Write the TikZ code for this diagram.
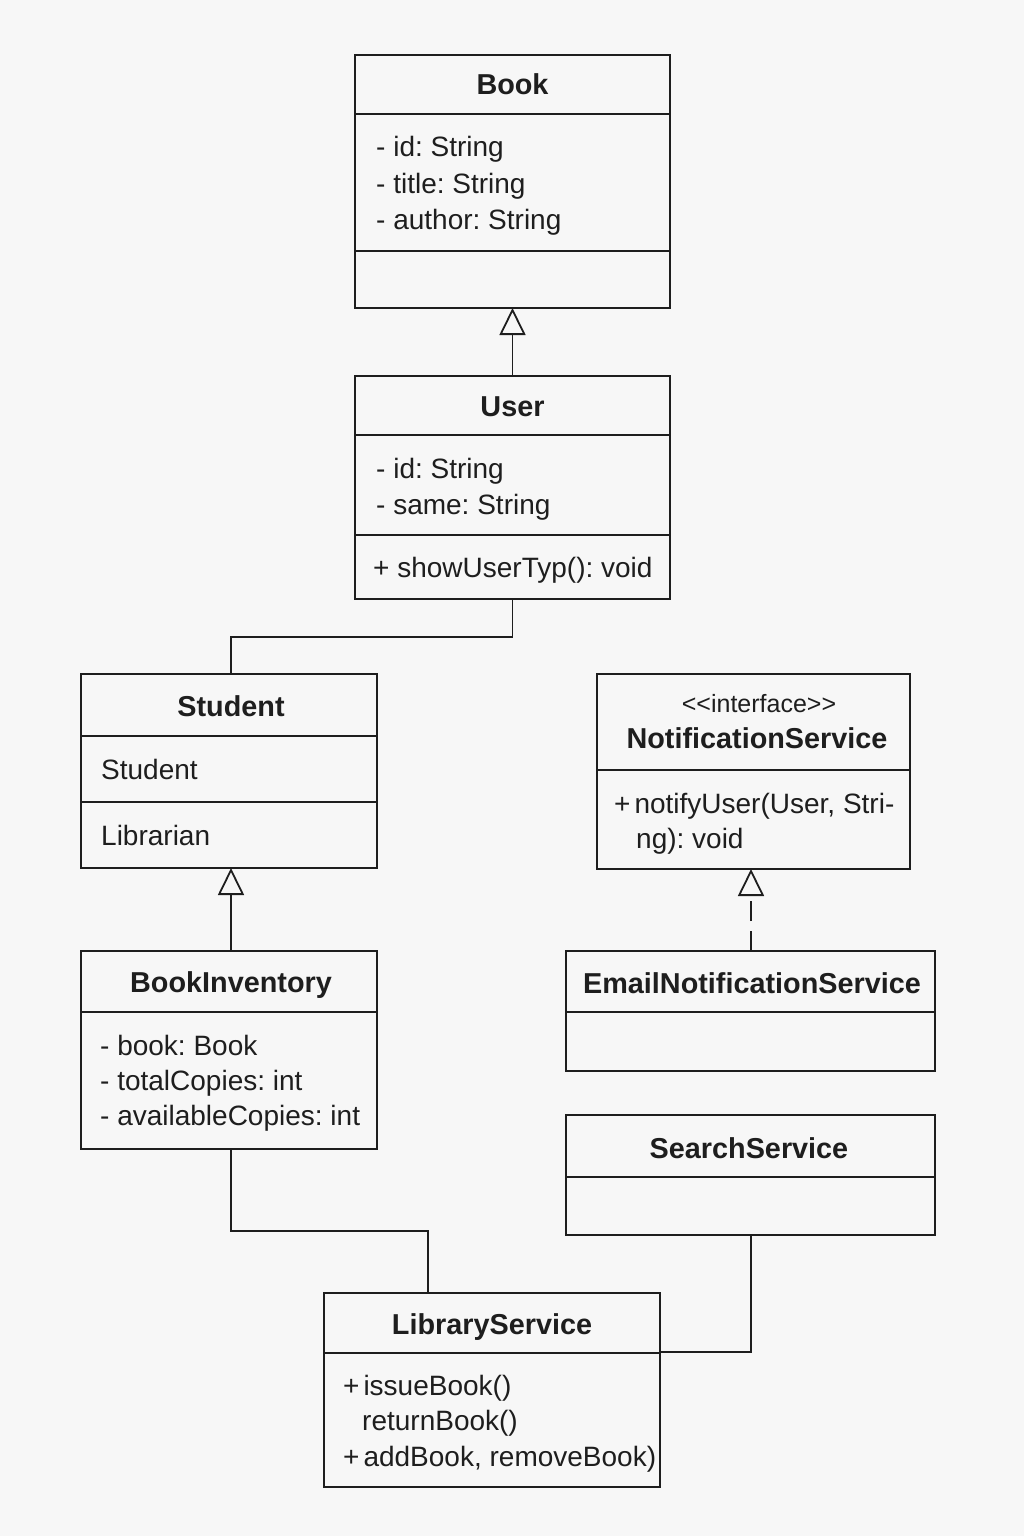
\documentclass[tikz,border=0pt]{standalone}
\usepackage{fontspec}
\setmainfont{Liberation Sans}
\usetikzlibrary{arrows.meta}
\definecolor{bgc}{RGB}{247,247,247}
\definecolor{inkc}{RGB}{30,30,30}
\tikzset{
  ln/.style={draw=inkc, line width=1.8pt},
  box/.style={ln, anchor=north west, inner sep=0pt, outer sep=0pt},
  ttl/.style={anchor=base, inner sep=0pt, text=inkc, font=\fontsize{28.8}{34}\selectfont\bfseries},
  txt/.style={anchor=base west, inner sep=0pt, text=inkc, font=\fontsize{28}{34}\selectfont},
  stereo/.style={anchor=base, inner sep=0pt, text=inkc, font=\fontsize{25}{30}\selectfont},
  gen/.style={ln, -{Triangle[length=27pt, width=26pt, fill=bgc, line width=1.8pt]}},
  real/.style={gen, dash pattern=on 20pt off 10pt},
  assoc/.style={ln}
}
\begin{document}
\frenchspacing
\begin{tikzpicture}[x=1pt, y=-1pt]
\fill[bgc] (0,0) rectangle (1024,1536);
\useasboundingbox (0,0) rectangle (1024,1536);

% Book
\node[box, minimum width=315pt, minimum height=253pt] (book) at (355,55) {};
\draw[ln] (book.west |- 0,114) -- (book.east |- 0,114);
\draw[ln] (book.west |- 0,251) -- (book.east |- 0,251);
\node[ttl] (booktitle) at (512.5,95) {Book};
\node[txt] (bookA1) at (376,157) {- id: String};
\node[txt] (bookA2) at (376,193) {- title: String};
\node[txt] (bookA3) at (376,229) {- author: String};

% User
\node[box, minimum width=315pt, minimum height=223pt] (user) at (355,376) {};
\draw[ln] (user.west |- 0,435) -- (user.east |- 0,435);
\draw[ln] (user.west |- 0,535) -- (user.east |- 0,535);
\node[ttl] (usertitle) at (512.5,416) {User};
\node[txt] (userA1) at (376,478) {- id: String};
\node[txt] (userA2) at (376,514) {- same: String};
\node[txt] (userM1) at (373,577) {+ showUserTyp(): void};

% Student
\node[box, minimum width=296pt, minimum height=194pt] (student) at (81,674) {};
\draw[ln] (student.west |- 0,736) -- (student.east |- 0,736);
\draw[ln] (student.west |- 0,802) -- (student.east |- 0,802);
\node[ttl] (studenttitle) at (231,716) {Student};
\node[txt] (studentA1) at (101,779) {Student};
\node[txt] (studentA2) at (101,845) {Librarian};

% BookInventory
\node[box, minimum width=296pt, minimum height=198pt] (inv) at (81,951) {};
\draw[ln] (inv.west |- 0,1012) -- (inv.east |- 0,1012);
\node[ttl] (invtitle) at (231,992) {BookInventory};
\node[txt] (invA1) at (100,1055) {- book: Book};
\node[txt] (invA2) at (100,1090) {- totalCopies: int};
\node[txt] (invA3) at (100,1125) {- availableCopies: int};

% NotificationService
\node[box, minimum width=313pt, minimum height=195pt] (notif) at (597,674) {};
\draw[ln] (notif.west |- 0,770) -- (notif.east |- 0,770);
\node[stereo] (notifstereo) at (759,712) {\textless\kern0pt\textless interface\textgreater\kern0pt\textgreater};
\node[ttl] (notiftitle) at (757,748) {NotificationService};
\node[txt] (notifM1) at (614,813) {+\kern4pt notifyUser(User, Stri-};
\node[txt] (notifM2) at (636,848) {ng): void};

% EmailNotificationService
\node[box, minimum width=369pt, minimum height=120pt] (email) at (566,951) {};
\draw[ln] (email.west |- 0,1012) -- (email.east |- 0,1012);
\node[ttl] (emailtitle) at (752,993) {EmailNotificationService};

% SearchService
\node[box, minimum width=369pt, minimum height=120pt] (search) at (566,1115) {};
\draw[ln] (search.west |- 0,1177) -- (search.east |- 0,1177);
\node[ttl] (searchtitle) at (749,1158) {SearchService};

% LibraryService
\node[box, minimum width=336pt, minimum height=194pt] (lib) at (324,1293) {};
\draw[ln] (lib.west |- 0,1353) -- (lib.east |- 0,1353);
\node[ttl] (libtitle) at (492,1334) {LibraryService};
\node[txt] (libM1) at (343,1395) {+\kern4pt issueBook()};
\node[txt] (libM2) at (362,1430) {returnBook()};
\node[txt] (libM3) at (343,1466) {+\kern4pt addBook, removeBook)};

% Connectors
\draw[gen] (user.north) -- (book.south);
\draw[assoc] (user.south) -- ++(0,38) -| ([xshift=2pt]student.north);
\draw[gen] ([xshift=2pt]inv.north) -- ([xshift=2pt]student.south);
\draw[real] (email.north -| 751,0) -- (notif.south -| 751,0);
\draw[assoc] ([xshift=2pt]inv.south) -- ++(0,82) -| ([xshift=104pt]lib.north west);
\draw[assoc] (search.south -| 751,0) |- ([yshift=-59pt]lib.north east);
\end{tikzpicture}
\end{document}
